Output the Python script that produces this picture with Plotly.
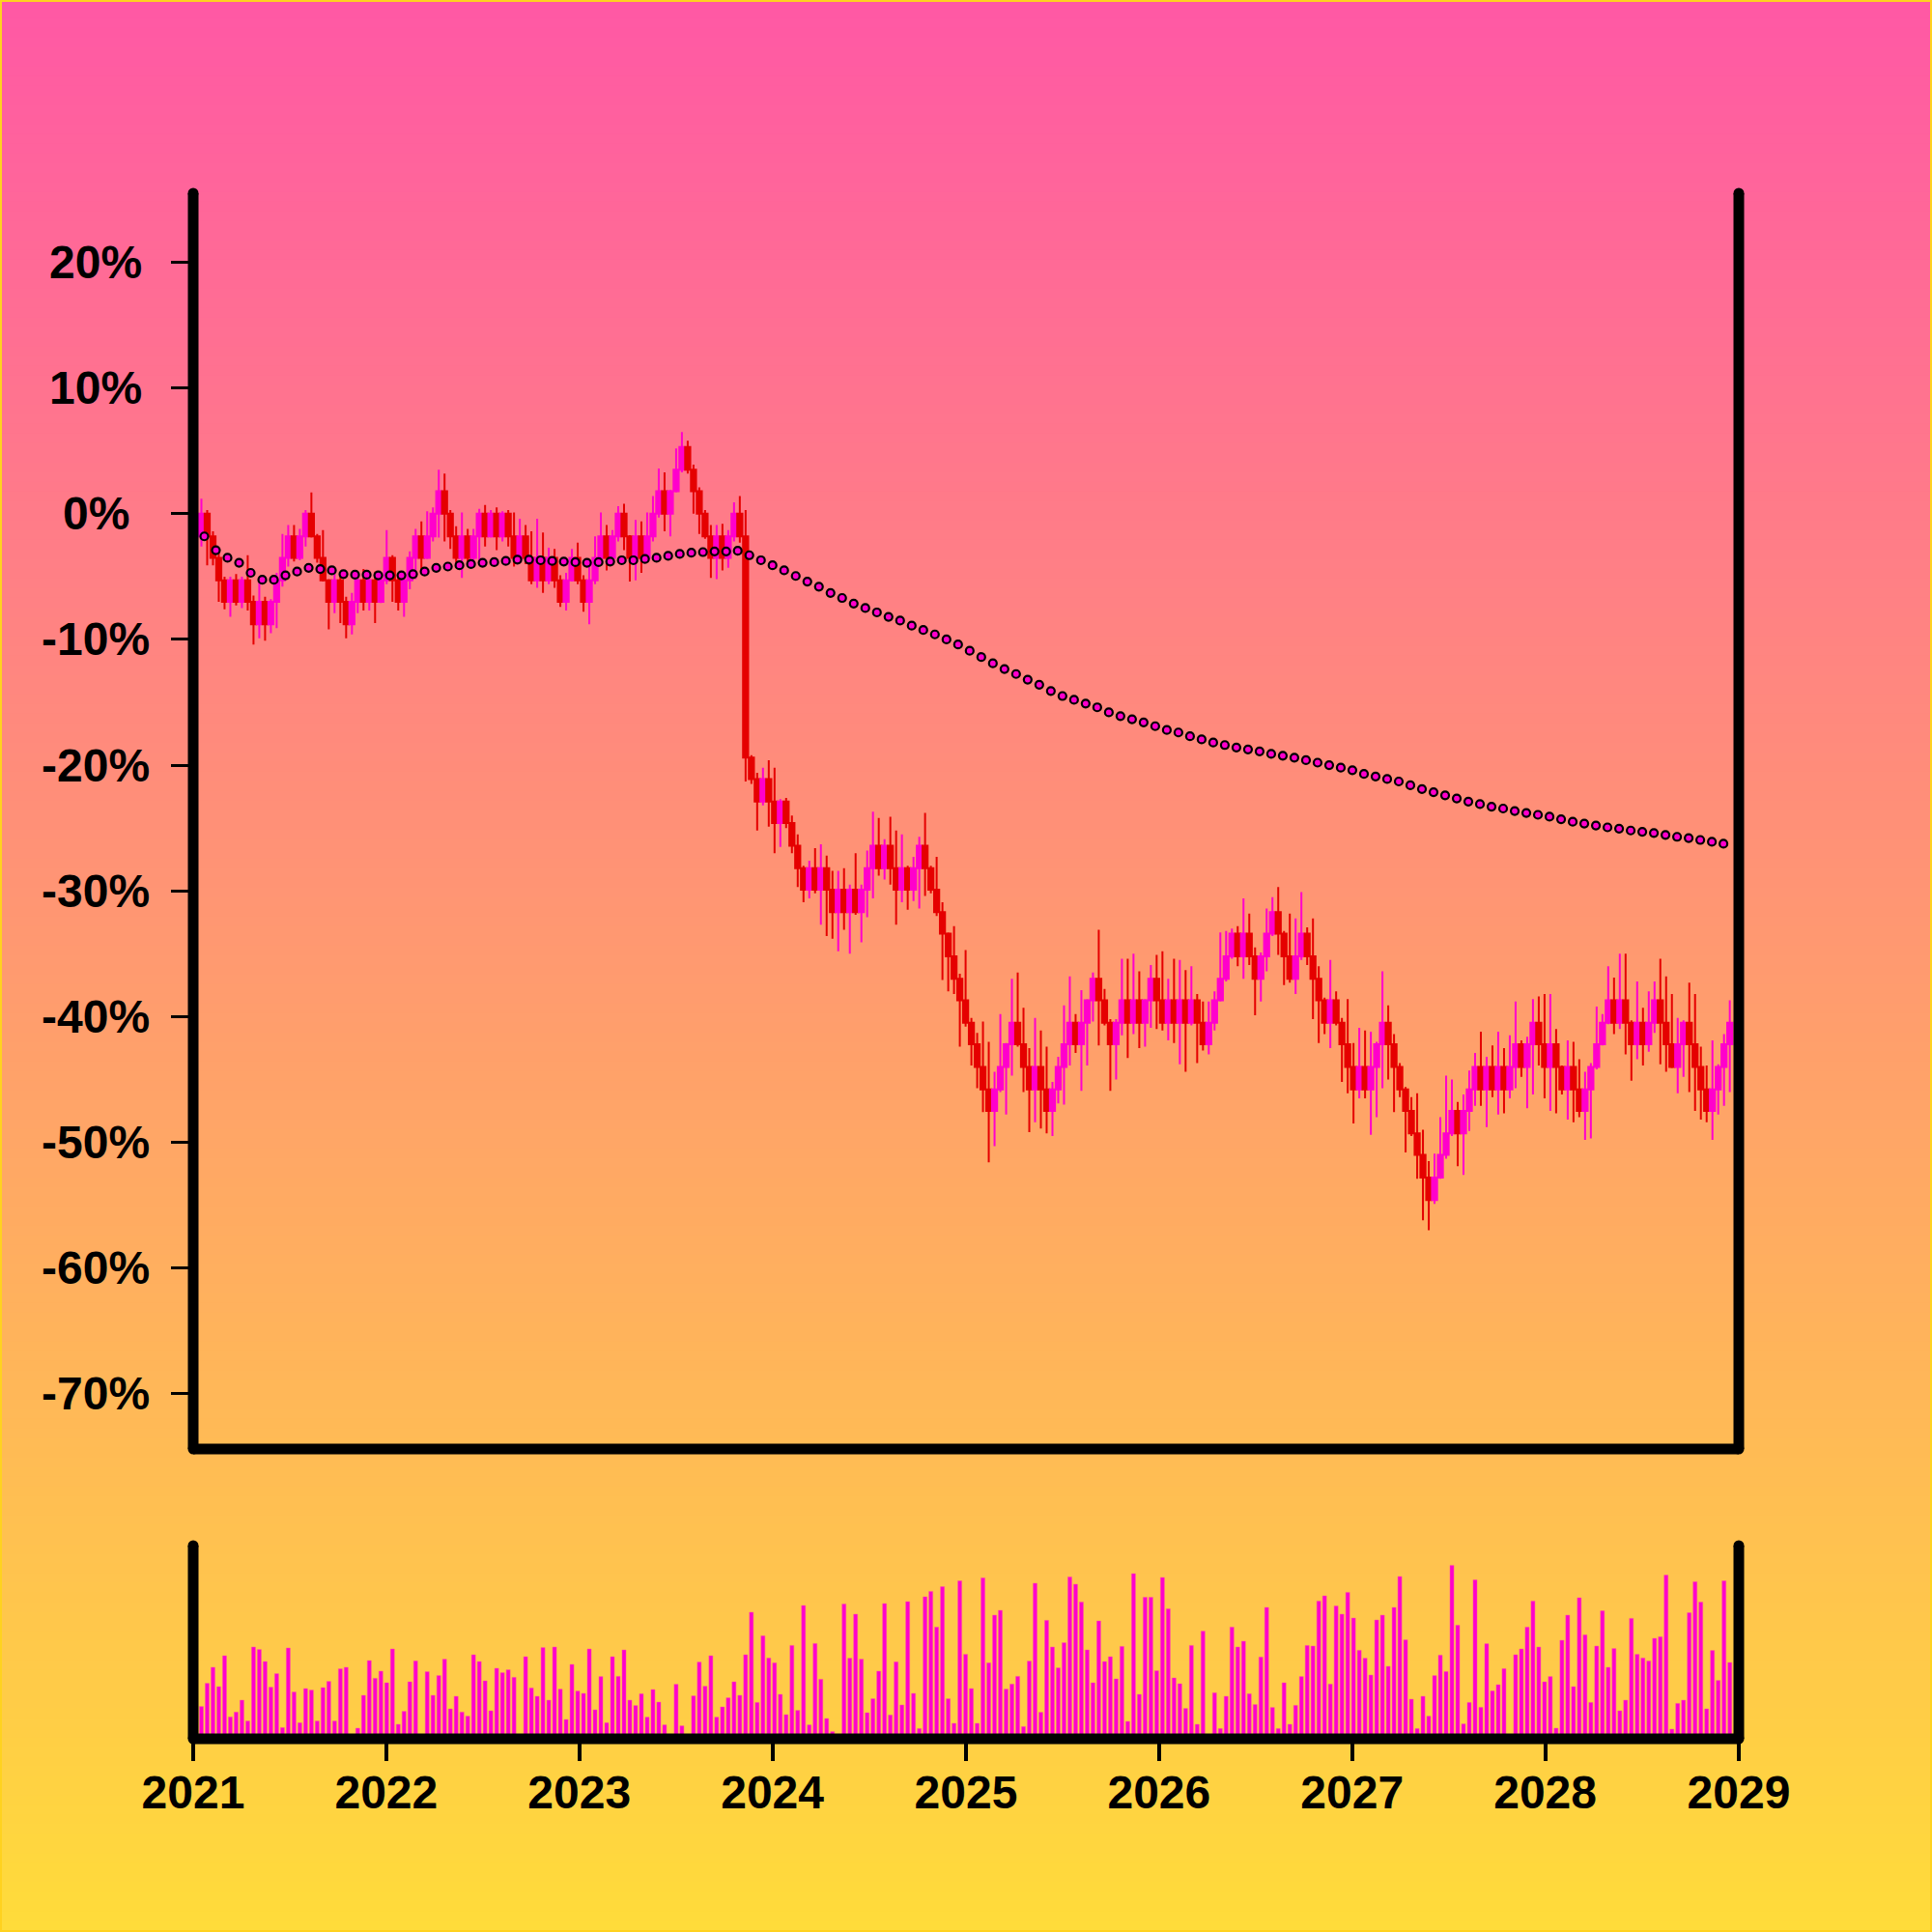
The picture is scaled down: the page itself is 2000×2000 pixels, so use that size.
import pandas as pd
import plotly.graph_objects as go

# ---------------- data ----------------
close_pct = [
    0.0, -1.8, -3.5, -5.3, -7.0, -5.3, -7.0, -5.3, -7.0, -8.8,
    -7.0, -8.8, -7.0, -5.3, -3.5, -1.8, -3.5, -1.8, 0.0, -1.8,
    -3.5, -5.3, -7.0, -5.3, -7.0, -8.8, -7.0, -5.3, -7.0, -5.3,
    -7.0, -5.3, -3.5, -5.3, -7.0, -5.3, -3.5, -1.8, -3.5, -1.8,
    0.0, 1.8, 0.0, -1.8, -3.5, -1.8, -3.5, -1.8, 0.0, -1.8,
    0.0, -1.8, 0.0, -1.8, -3.5, -1.8, -3.5, -5.3, -3.5, -5.3,
    -3.5, -5.3, -7.0, -5.3,
    -3.5, -5.3, -7.0, -5.3, -3.5, -1.8, -3.5, -1.8, 0.0, -1.8,
    -3.5, -1.8, -3.5, -1.8, 0.0, 1.8, 0.0, 1.8, 3.5, 5.3,
    3.5, 1.8, 0.0, -1.8, -3.5, -1.8, -3.5, -1.8, 0.0, -1.8,
    -19.4, -21.1, -22.9, -21.1, -22.9, -24.6, -22.9, -24.6, -26.4, -28.2,
    -29.9, -28.2, -29.9, -28.2, -29.9, -31.7, -29.9, -31.7, -29.9, -31.7,
    -29.9, -28.2, -26.4, -28.2, -26.4, -28.2, -29.9, -28.2, -29.9, -28.2,
    -26.4, -28.2, -29.9, -31.7,
    -33.4, -35.2, -37.0, -38.7, -40.5, -42.2, -44.0, -45.8, -47.5, -45.8,
    -44.0, -42.2, -40.5, -42.2, -44.0, -45.8, -44.0, -45.8, -47.5, -45.8,
    -44.0, -42.2, -40.5, -42.2, -40.5, -38.7, -37.0, -38.7, -40.5, -42.2,
    -40.5, -38.7, -40.5, -38.7,
    -40.5, -38.7, -37.0, -38.7, -40.5, -38.7, -40.5, -38.7, -40.5, -38.7,
    -40.5, -42.2, -40.5, -38.7, -37.0, -35.2, -33.4, -35.2, -33.4, -35.2,
    -37.0, -35.2, -33.4, -31.7, -33.4, -35.2, -37.0, -35.2, -33.4, -35.2,
    -37.0, -38.7, -40.5, -38.7, -40.5, -42.2, -44.0, -45.8,
    -44.0, -45.8, -44.0, -42.2, -40.5, -42.2, -44.0, -45.8, -47.5, -49.3,
    -51.0, -52.8, -54.6, -52.8, -51.0, -49.3, -47.5, -49.3, -47.5, -45.8,
    -44.0, -45.8, -44.0, -45.8, -44.0, -45.8, -44.0, -42.2, -44.0, -42.2,
    -40.5, -42.2, -44.0, -42.2, -44.0, -45.8, -44.0, -45.8, -47.5, -45.8,
    -44.0, -42.2, -40.5, -38.7, -40.5, -38.7, -40.5, -42.2, -40.5, -42.2,
    -40.5, -38.7, -40.5, -42.2, -44.0, -42.2, -40.5, -42.2, -44.0, -45.8,
    -47.5, -45.8, -44.0, -42.2, -40.5,
]

open_pct = [
    -1.8,
    0.0, -1.8, -3.5, -5.3, -7.0, -5.3, -7.0, -5.3, -7.0, -8.8,
    -7.0, -8.8, -7.0, -5.3, -3.5, -1.8, -3.5, -1.8, 0.0, -1.8,
    -3.5, -5.3, -7.0, -5.3, -7.0, -8.8, -7.0, -5.3, -7.0, -5.3,
    -7.0, -5.3, -3.5, -5.3, -7.0, -5.3, -3.5, -1.8, -3.5, -1.8,
    0.0, 1.8, 0.0, -1.8, -3.5, -1.8, -3.5, -1.8, 0.0, -1.8,
    0.0, -1.8, 0.0, -1.8, -3.5, -1.8, -3.5, -5.3, -3.5, -5.3,
    -3.5, -5.3, -7.0, -5.3,
    -3.5, -5.3, -7.0, -5.3, -3.5, -1.8, -3.5, -1.8, 0.0, -1.8,
    -3.5, -1.8, -3.5, -1.8, 0.0, 1.8, 0.0, 1.8, 3.5, 5.3,
    3.5, 1.8, 0.0, -1.8, -3.5, -1.8, -3.5, -1.8, 0.0, -1.8,
    -19.4, -21.1, -22.9, -21.1, -22.9, -24.6, -22.9, -24.6, -26.4, -28.2,
    -29.9, -28.2, -29.9, -28.2, -29.9, -31.7, -29.9, -31.7, -29.9, -31.7,
    -29.9, -28.2, -26.4, -28.2, -26.4, -28.2, -29.9, -28.2, -29.9, -28.2,
    -26.4, -28.2, -29.9, -31.7,
    -33.4, -35.2, -37.0, -38.7, -40.5, -42.2, -44.0, -45.8, -47.5, -45.8,
    -44.0, -42.2, -40.5, -42.2, -44.0, -45.8, -44.0, -45.8, -47.5, -45.8,
    -44.0, -42.2, -40.5, -42.2, -40.5, -38.7, -37.0, -38.7, -40.5, -42.2,
    -40.5, -38.7, -40.5, -38.7,
    -40.5, -38.7, -37.0, -38.7, -40.5, -38.7, -40.5, -38.7, -40.5, -38.7,
    -40.5, -42.2, -40.5, -38.7, -37.0, -35.2, -33.4, -35.2, -33.4, -35.2,
    -37.0, -35.2, -33.4, -31.7, -33.4, -35.2, -37.0, -35.2, -33.4, -35.2,
    -37.0, -38.7, -40.5, -38.7, -40.5, -42.2, -44.0, -45.8,
    -44.0, -45.8, -44.0, -42.2, -40.5, -42.2, -44.0, -45.8, -47.5, -49.3,
    -51.0, -52.8, -54.6, -52.8, -51.0, -49.3, -47.5, -49.3, -47.5, -45.8,
    -44.0, -45.8, -44.0, -45.8, -44.0, -45.8, -44.0, -42.2, -44.0, -42.2,
    -40.5, -42.2, -44.0, -42.2, -44.0, -45.8, -44.0, -45.8, -47.5, -45.8,
    -44.0, -42.2, -40.5, -38.7, -40.5, -38.7, -40.5, -42.2, -40.5, -42.2,
    -40.5, -38.7, -40.5, -42.2, -44.0, -42.2, -40.5, -42.2, -44.0, -45.8,
    -47.5, -45.8, -44.0, -42.2,
]

high_pct = [
    1.2, 0.3, -1.4, -3.0, -5.0, -5.0, -4.8, -5.0, -3.3, -6.5,
    -5.4, -6.6, -6.8, -4.7, -1.6, -0.9, -0.9, -1.2, 0.3, 1.7,
    -1.6, -1.3, -5.2, -4.5, -5.0, -6.6, -6.3, -4.8, -4.4, -4.9,
    -4.6, -4.9, -1.3, -3.3, -5.0, -4.9, -3.0, -1.2, -0.6, 0.2,
    0.5, 3.5, 3.2, 0.3, -1.0, 0.1, -1.2, -1.2, 0.4, 0.7,
    0.3, 0.5, 0.2, 0.3, 0.1, -0.4, -0.9, -1.4, -0.4, -1.5,
    -2.7, -2.8, -4.9, -4.7,
    -2.8, -2.3, -4.9, -4.2, -1.8, 0.1, -0.9, -1.3, 0.6, 0.8,
    -1.7, -0.5, -0.6, 0.1, 1.4, 3.6, 3.3, 1.9, 5.2, 6.5,
    5.8, 3.9, 2.1, 0.3, -0.9, -0.9, -0.8, -1.3, 0.9, 1.4,
    0.3, -19.2, -20.6, -20.2, -19.6, -20.2, -22.7, -22.6, -24.0, -25.5,
    -28.0, -27.6, -26.6, -26.3, -27.2, -28.4, -28.4, -28.2, -29.5, -27.0,
    -29.5, -26.8, -23.7, -24.2, -25.9, -24.1, -25.2, -25.5, -28.0, -27.3,
    -25.7, -23.8, -28.0, -27.3,
    -30.9, -33.3, -32.8, -36.6, -34.7, -40.1, -41.3, -40.4, -42.0, -44.4,
    -39.8, -42.1, -37.0, -36.5, -39.3, -42.5, -40.1, -41.1, -42.4, -45.2,
    -43.2, -39.1, -36.8, -39.8, -37.9, -38.6, -36.5, -33.1, -37.8, -40.2,
    -40.2, -35.4, -35.4, -35.0,
    -36.4, -38.6, -35.9, -35.1, -34.8, -37.0, -35.4, -35.5, -36.3, -36.0,
    -38.2, -38.8, -38.8, -38.0, -33.3, -33.2, -33.0, -32.8, -30.6, -31.8,
    -34.5, -34.9, -31.4, -30.5, -29.7, -33.2, -31.8, -32.2, -30.1, -32.9,
    -32.2, -36.0, -38.5, -35.5, -38.0, -40.1, -38.6, -42.1,
    -40.9, -41.1, -41.2, -42.0, -36.4, -39.1, -41.4, -43.7, -45.6, -46.4,
    -46.1, -49.0, -51.5, -50.9, -48.0, -44.7, -45.0, -46.8, -46.2, -44.3,
    -42.9, -41.2, -43.2, -42.3, -41.2, -42.5, -41.5, -38.8, -41.9, -41.6,
    -38.6, -38.4, -38.2, -38.2, -41.0, -43.9, -41.9, -42.0, -43.4, -44.4,
    -43.7, -39.2, -39.8, -36.0, -36.9, -35.0, -35.0, -40.3, -37.2, -39.3,
    -38.0, -37.2, -35.4, -36.8, -38.2, -40.1, -40.3, -37.3, -38.2, -42.4,
    -43.9, -41.9, -43.8, -41.4, -38.7,
]

low_pct = [
    -2.6, -4.1, -4.1, -7.0, -7.6, -8.2, -7.3, -7.5, -7.7, -10.4,
    -9.9, -10.1, -9.5, -9.1, -5.8, -4.2, -3.8, -3.7, -2.6, -1.9,
    -3.9, -5.4, -9.2, -7.9, -8.7, -9.9, -9.6, -7.9, -7.7, -7.7,
    -8.7, -7.1, -5.6, -7.0, -7.7, -8.2, -6.0, -5.2, -4.5, -3.6,
    -2.2, -1.9, -2.2, -2.8, -4.3, -5.1, -4.0, -3.9, -3.8, -2.6,
    -1.9, -2.9, -2.2, -2.6, -4.2, -3.9, -4.0, -5.6, -5.9, -6.3,
    -5.6, -5.9, -7.4, -7.7,
    -5.4, -5.6, -7.8, -8.8, -5.6, -4.0, -4.5, -3.8, -2.2, -2.9,
    -5.4, -5.3, -4.7, -3.8, -2.2, -0.3, -1.4, -1.8, 1.7, 3.3,
    3.2, 0.0, -1.6, -2.0, -5.1, -5.2, -4.5, -4.3, -2.2, -2.3,
    -21.3, -21.5, -25.2, -23.2, -24.9, -27.0, -26.5, -25.0, -27.0, -29.7,
    -30.9, -30.6, -30.2, -32.7, -33.6, -33.8, -34.8, -33.1, -35.0, -31.9,
    -34.1, -32.1, -30.6, -28.8, -29.1, -29.5, -32.7, -30.9, -31.5, -30.8,
    -31.4, -30.4, -30.2, -32.0,
    -37.1, -38.0, -38.2, -42.4, -40.8, -43.9, -45.7, -47.6, -51.6, -50.3,
    -46.0, -47.8, -44.7, -42.4, -46.0, -49.2, -48.4, -48.9, -49.3, -49.5,
    -46.9, -47.0, -43.9, -42.9, -45.9, -43.9, -40.4, -42.3, -40.7, -45.9,
    -45.0, -41.5, -43.3, -41.4,
    -42.5, -42.4, -40.9, -41.0, -41.1, -41.9, -42.1, -43.8, -44.4, -40.7,
    -43.7, -42.7, -43.0, -41.1, -38.8, -37.2, -35.4, -36.0, -37.0, -35.9,
    -39.9, -38.8, -36.4, -33.6, -35.1, -37.5, -37.3, -38.2, -35.5, -35.9,
    -40.2, -42.1, -41.4, -42.5, -40.7, -45.2, -46.1, -48.5,
    -46.5, -46.5, -49.4, -48.0, -45.7, -45.0, -47.6, -46.4, -50.8, -49.5,
    -52.9, -56.2, -57.0, -54.9, -52.9, -51.3, -49.5, -51.9, -52.6, -49.1,
    -47.1, -47.1, -48.8, -46.4, -47.8, -47.7, -46.5, -45.7, -44.8, -47.3,
    -46.2, -43.9, -46.5, -47.5, -47.7, -46.2, -48.2, -48.4, -48.0, -49.8,
    -49.7, -44.2, -42.3, -40.6, -41.4, -41.0, -43.0, -45.1, -43.4, -43.9,
    -42.8, -41.3, -43.8, -44.4, -44.1, -46.1, -44.8, -46.0, -47.5, -48.2,
    -48.4, -49.8, -47.8, -47.1, -46.0,
]

volume = [
    16.7, 28.7, 37.0, 27.0, 43.0, 11.3, 13.8, 20.0, 9.2, 47.5,
    46.2, 40.0, 26.7, 33.7, 5.8, 47.0, 24.2, 8.3, 26.0, 25.2,
    9.2, 26.5, 29.7, 9.2, 36.2, 37.0, 0, 5.5, 22.5, 40.5,
    31.3, 35.0, 29.0, 46.5, 7.5, 14.2, 29.5, 40.3, 0, 34.7,
    22.5, 32.7, 41.2, 15.5, 22.0, 13.8, 11.7, 43.5, 40.0, 30.0,
    14.5, 36.5, 34.2, 35.7, 31.8, 0, 42.5, 26.3, 22.0, 47.2,
    20.0, 47.5, 25.7, 10.0, 38.5, 24.7, 23.5, 46.5, 15.0, 32.2,
    8.3, 42.5, 32.3, 46.0, 20.0, 17.2, 23.3, 11.2, 25.5, 19.0,
    7.2, 0, 28.2, 6.7, 0, 22.2, 39.7, 27.2, 43.0, 11.2,
    16.5, 21.2, 29.5, 22.5, 43.5, 65.5, 18.8, 53.3, 41.8, 39.3,
    23.0, 12.5, 48.3, 14.7, 69.0, 7.2, 49.3, 30.8, 10.5, 3.7,
    0, 69.8, 41.7, 64.5, 41.2, 13.5, 20.7, 35.0, 70.0, 12.3,
    39.8, 17.5, 71.0, 23.5, 5.3, 73.5, 76.3, 57.8, 78.7, 20.7,
    8.0, 81.7, 43.7, 26.0, 8.0, 83.3, 39.3, 64.0, 66.5, 25.7,
    28.3, 32.3, 6.3, 40.2, 80.5, 13.7, 61.3, 47.5, 36.7, 49.7,
    83.8, 80.0, 70.8, 46.0, 29.0, 61.0, 40.0, 42.5, 31.0, 47.8,
    9.0, 85.5, 23.0, 73.2, 73.2, 35.2, 83.5, 67.3, 31.5, 28.5,
    15.7, 48.3, 7.5, 55.7, 0, 23.8, 5.3, 22.0, 57.8, 47.5,
    50.5, 23.3, 17.7, 42.3, 68.0, 16.2, 5.3, 29.0, 7.5, 17.3,
    32.2, 48.3, 48.0, 71.3, 74.0, 28.3, 68.8, 64.5, 75.8, 62.5,
    45.8, 41.7, 33.0, 61.5, 64.0, 37.5, 68.0, 84.0, 51.2, 20.5,
    5.3, 22.0, 11.7, 32.7, 43.3, 34.8, 89.8, 58.8, 7.7, 18.8,
    82.3, 16.3, 49.2, 24.8, 28.0, 36.3, 0, 43.5, 46.5, 57.8,
    71.3, 47.5, 29.5, 32.2, 5.5, 51.0, 64.0, 27.0, 73.0, 53.8,
    18.8, 48.0, 66.2, 37.0, 46.7, 14.5, 20.0, 62.3, 43.7, 41.8,
    40.3, 52.0, 52.8, 84.7, 5.0, 18.3, 20.0, 65.2, 81.3, 70.7,
    15.5, 45.7, 30.2, 81.7, 39.5,
]

ma_pct = [
    -1.8, -2.9, -3.5, -3.9, -4.7, -5.25, -5.25, -4.9, -4.6, -4.3,
    -4.4, -4.5, -4.8, -4.85, -4.85, -4.9, -4.9, -4.9, -4.8, -4.6,
    -4.3, -4.2, -4.1, -4.0, -3.9, -3.85, -3.75, -3.65, -3.65, -3.7,
    -3.75, -3.8, -3.85, -3.9, -3.85, -3.8, -3.7, -3.7, -3.6, -3.5,
    -3.35, -3.2, -3.1, -3.05, -3.0, -3.0, -2.95, -3.3, -3.7, -4.1,
    -4.5, -4.95, -5.4, -5.8, -6.3, -6.7, -7.15, -7.5, -7.85, -8.2,
    -8.5,
    -8.9, -9.25, -9.6, -10.0, -10.4, -10.9, -11.4, -11.9, -12.35, -12.75,
    -13.2, -13.6, -14.1, -14.5, -14.8, -15.1, -15.4, -15.8, -16.1, -16.35,
    -16.6, -16.9, -17.2, -17.4, -17.7, -17.95, -18.2, -18.4, -18.6, -18.75,
    -18.9, -19.1, -19.25, -19.4, -19.6, -19.8, -20.0, -20.2, -20.4, -20.7,
    -20.9, -21.1, -21.3, -21.6, -21.9, -22.15, -22.4, -22.65, -22.9, -23.1,
    -23.3, -23.45, -23.65, -23.8, -23.95, -24.1, -24.3, -24.5, -24.65, -24.8,
    -24.95, -25.05, -25.2, -25.3, -25.4, -25.55, -25.7, -25.8, -25.95, -26.1,
    -26.25,
]

y_tick_values = [20, 10, 0, -10, -20, -30, -40, -50, -60, -70]
x_tick_years = ["2021", "2022", "2023", "2024", "2025", "2026", "2027", "2028", "2029"]

N = len(close_pct)
assert len(open_pct) == N and len(high_pct) == N and len(low_pct) == N and len(volume) == N, (
    len(open_pct), len(high_pct), len(low_pct), len(volume), N)

dates = pd.date_range("2021-01-16 12:00", "2028-12-15", periods=N)
ma_dates = pd.date_range("2021-01-22", "2028-12-03", periods=len(ma_pct))

# ---------------- style ----------------
MAGENTA = "#FF00CC"
RED = "#E50000"
FONT = "Liberation Sans, Arial, Helvetica, sans-serif"
AX_W = 11                      # axis stroke width (px)
PLOT_PX = 1600                 # plot area size in px (both directions)
MAIN_DOM = [0.1875, 1.0]
VOL_DOM = [0.0, 0.125]

fig = go.Figure()

fig.add_trace(go.Candlestick(
    x=dates, open=open_pct, high=high_pct, low=low_pct, close=close_pct,
    increasing=dict(line=dict(color=MAGENTA, width=2), fillcolor=MAGENTA),
    decreasing=dict(line=dict(color=RED, width=2), fillcolor=RED),
    whiskerwidth=0, xaxis="x", yaxis="y", showlegend=False, name="price",
))

fig.add_trace(go.Scatter(
    x=ma_dates, y=ma_pct, mode="markers", xaxis="x", yaxis="y",
    marker=dict(size=8, color=MAGENTA, line=dict(color="black", width=2.2)),
    showlegend=False, name="avg",
))

fig.add_trace(go.Bar(
    x=dates, y=volume, xaxis="x2", yaxis="y2",
    marker=dict(color=MAGENTA, line=dict(color="rgba(255,80,170,0.6)", width=0.8)),
    showlegend=False, name="volume",
))

# gradient background (bands)
TOP = (255, 88, 165)
BOT = (255, 220, 58)
shapes = []
NB = 200
for j in range(NB):
    f = (j + 0.5) / NB
    r = round(TOP[0] + (BOT[0] - TOP[0]) * f)
    g = round(TOP[1] + (BOT[1] - TOP[1]) * f)
    b = round(TOP[2] + (BOT[2] - TOP[2]) * f)
    py_top = 2000 * j / NB
    py_bot = 2000 * (j + 1) / NB
    shapes.append(dict(
        type="rect", xref="paper", yref="paper", layer="below",
        x0=-0.13, x1=1.13,
        y0=(1800 - py_bot) / 1600 - 0.0008, y1=(1800 - py_top) / 1600 + 0.0008,
        fillcolor=f"rgb({r},{g},{b})", line=dict(width=0),
    ))

# frame lines centred on the plot edges, with round ends
rad = (AX_W / 2) / PLOT_PX
for (y_lo, y_hi) in (MAIN_DOM, VOL_DOM):
    for x in (0, 1):
        shapes.append(dict(type="line", xref="paper", yref="paper", layer="above",
                           x0=x, x1=x, y0=y_lo, y1=y_hi,
                           line=dict(color="black", width=AX_W)))
    shapes.append(dict(type="line", xref="paper", yref="paper", layer="above",
                       x0=0, x1=1, y0=y_lo, y1=y_lo,
                       line=dict(color="black", width=AX_W)))
    for x in (0, 1):
        for y in (y_lo, y_hi):
            shapes.append(dict(type="circle", xref="paper", yref="paper", layer="above",
                               x0=x - rad, x1=x + rad, y0=y - rad, y1=y + rad,
                               fillcolor="black", line=dict(width=0)))

# thin outer border
shapes.append(dict(
    type="rect", xref="paper", yref="paper", layer="above",
    x0=-0.125, x1=1.125, y0=-0.125, y1=1.125,
    line=dict(color="#FFD21F", width=4), fillcolor="rgba(0,0,0,0)",
))

annotations = [
    dict(x=-0.0631, xref="paper", y=v, yref="y", text=f"{v}%", showarrow=False,
         xanchor="center", yanchor="middle",
         font=dict(family=FONT, size=48, color="black", weight="bold"))
    for v in y_tick_values
]

fig.update_layout(
    width=2000, height=2000,
    margin=dict(l=200, r=200, t=200, b=200, pad=0),
    paper_bgcolor="rgb(255,154,112)",
    plot_bgcolor="rgba(0,0,0,0)",
    font=dict(family=FONT, color="black"),
    showlegend=False,
    bargap=0.33,
    boxgap=0.12,
    boxgroupgap=0,
    shapes=shapes,
    annotations=annotations,
    xaxis=dict(
        domain=[0, 1], anchor="y", type="date", matches="x2",
        range=["2021-01-01", "2029-01-01"],
        showline=False, showgrid=False, zeroline=False, ticks="", showticklabels=False,
        rangeslider=dict(visible=False),
    ),
    yaxis=dict(
        domain=MAIN_DOM, anchor="x", range=[-74.4, 25.5],
        showline=False, showgrid=False, zeroline=False,
        ticks="outside", ticklen=22, tickwidth=3, tickcolor="black",
        tickvals=y_tick_values, showticklabels=False,
    ),
    xaxis2=dict(
        domain=[0, 1], anchor="y2", type="date",
        range=["2021-01-01", "2029-01-01"],
        showline=False, showgrid=False, zeroline=False,
        ticks="outside", ticklen=22, tickwidth=4, tickcolor="black",
        tickvals=[f"{y}-01-01" for y in x_tick_years], ticktext=x_tick_years,
        tickfont=dict(family=FONT, size=48, color="black", weight="bold"),
        ticklabelstandoff=-9,
        rangeslider=dict(visible=False),
    ),
    yaxis2=dict(
        domain=VOL_DOM, anchor="x2", range=[0, 100],
        showline=False, showgrid=False, zeroline=False, ticks="", showticklabels=False,
    ),
)

fig.write_html(
    "out.html",
    config={"displayModeBar": False},
    post_script="document.body.style.margin='0';document.body.style.overflow='hidden';",
)
